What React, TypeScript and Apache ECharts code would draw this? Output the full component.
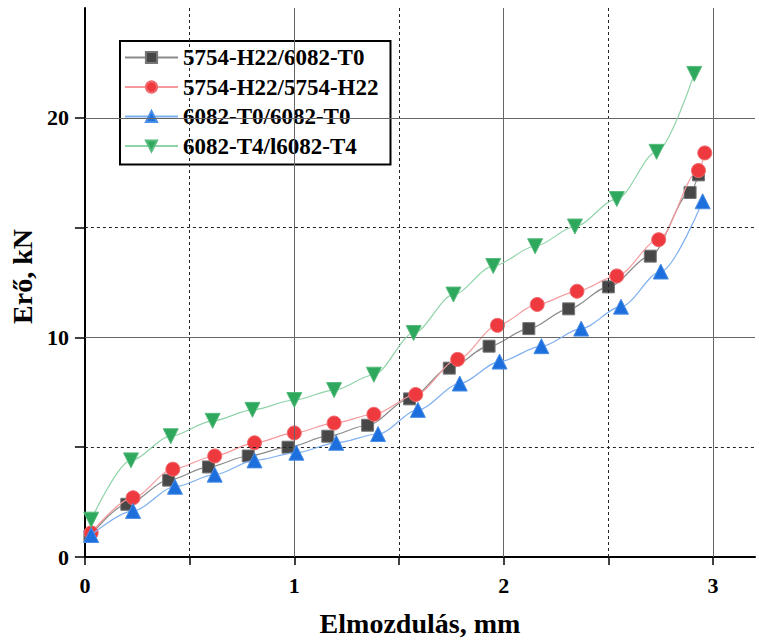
import React, { useEffect, useRef } from "react";
import * as echarts from "echarts";

const seriesNames = [
  "5754-H22/6082-T0",
  "5754-H22/5754-H22",
  "6082-T0/6082-T0",
  "6082-T4/l6082-T4",
];

const x1 = [0.024, 0.2, 0.4, 0.59, 0.78, 0.97, 1.16, 1.35, 1.55, 1.74, 1.93, 2.12, 2.31, 2.5, 2.7, 2.89, 2.93];
const y1 = [0.95, 2.4, 3.5, 4.1, 4.6, 5.0, 5.5, 6.0, 7.2, 8.6, 9.6, 10.4, 11.3, 12.3, 13.7, 16.6, 17.4];

const x2 = [0.03, 0.23, 0.42, 0.62, 0.81, 1.0, 1.19, 1.38, 1.58, 1.78, 1.97, 2.16, 2.35, 2.54, 2.74, 2.93, 2.96];
const y2 = [1.1, 2.7, 4.0, 4.6, 5.2, 5.65, 6.1, 6.5, 7.4, 9.0, 10.55, 11.5, 12.1, 12.8, 14.45, 17.6, 18.4];

const x3 = [0.03, 0.23, 0.43, 0.62, 0.81, 1.01, 1.2, 1.4, 1.59, 1.79, 1.98, 2.18, 2.37, 2.56, 2.75, 2.95];
const y3 = [1.0, 2.1, 3.2, 3.75, 4.4, 4.75, 5.2, 5.6, 6.7, 7.9, 8.9, 9.6, 10.4, 11.4, 13.0, 16.2];

const x4 = [0.03, 0.22, 0.41, 0.61, 0.8, 1.0, 1.19, 1.38, 1.57, 1.76, 1.95, 2.15, 2.34, 2.54, 2.73, 2.91];
const y4 = [1.7, 4.4, 5.5, 6.2, 6.7, 7.15, 7.6, 8.3, 10.2, 11.95, 13.25, 14.15, 15.05, 16.3, 18.45, 22.0];

const xMajorGrid = [1, 2, 3];
const xMinorGrid = [0.5, 1.5, 2.5];
const yMajorGrid = [10, 20];
const yMinorGrid = [5, 15];

const FONT = "Liberation Serif";

const pairs = (xs: number[], ys: number[]) => xs.map((x, i) => [x, ys[i]]);

export default function App() {
  const ref = useRef<HTMLDivElement>(null);
  useEffect(() => {
    if (!ref.current) return;
    const chart = echarts.init(ref.current, undefined, { renderer: "svg" });
    const markerStyles = [
      { symbol: "rect", size: 12, color: "#474747", border: "#777777", line: "#8a8a8a", rotate: 0 },
      { symbol: "circle", size: 14, color: "#ee3a3f", border: "#f06a6e", line: "#f59a9c", rotate: 0 },
      { symbol: "triangle", size: 15, color: "#1c6fdc", border: "#4b8ee6", line: "#7fb0f0", rotate: 0 },
      { symbol: "triangle", size: 15, color: "#2ea85c", border: "#58bb7d", line: "#8fd3a8", rotate: 180 },
    ];
    const datasets = [pairs(x1, y1), pairs(x2, y2), pairs(x3, y3), pairs(x4, y4)];
    const solid = { color: "#666666", width: 1, type: "solid" };
    const dashed = { color: "#222222", width: 1, type: [3, 3] };
    const gridSeries: any = {
      name: "grid",
      type: "line",
      data: [],
      z: 1,
      silent: true,
      markLine: {
        silent: true,
        symbol: "none",
        label: { show: false },
        animation: false,
        data: [
          ...xMajorGrid.map((v) => ({ xAxis: v, lineStyle: solid })),
          ...xMinorGrid.map((v) => ({ xAxis: v, lineStyle: dashed })),
          ...yMajorGrid.map((v) => ({ yAxis: v, lineStyle: solid })),
          ...yMinorGrid.map((v) => ({ yAxis: v, lineStyle: dashed })),
        ],
      },
    };
    const dataSeries = seriesNames.map((name, i) => ({
      name,
      type: "line",
      data: datasets[i],
      smooth: 0.3,
      smoothMonotone: "x",
      symbol: markerStyles[i].symbol,
      symbolSize: markerStyles[i].size,
      symbolRotate: markerStyles[i].rotate,
      z: 3 + i,
      lineStyle: { color: markerStyles[i].line, width: 1.2 },
      itemStyle: {
        color: markerStyles[i].color,
        borderColor: markerStyles[i].border,
        borderWidth: 1,
      },
    }));
    chart.setOption({
      animation: false,
      backgroundColor: "#ffffff",
      grid: { left: 83, top: 8, right: 4, bottom: 81, containLabel: false },
      legend: {
        data: seriesNames,
        orient: "vertical",
        left: 120,
        top: 41,
        backgroundColor: "#ffffff",
        borderColor: "#000000",
        borderWidth: 2,
        padding: [5, 12, 7, 4],
        itemGap: 6.5,
        itemWidth: 53,
        itemHeight: 14,
        textStyle: {
          fontFamily: FONT,
          fontWeight: "bold",
          fontSize: 23,
          color: "#000000",
          lineHeight: 23,
        },
      },
      xAxis: {
        type: "value",
        min: 0,
        max: 3.2,
        interval: 0.5,
        name: "Elmozdulás, mm",
        nameLocation: "middle",
        nameGap: 52,
        nameTextStyle: { fontFamily: FONT, fontWeight: "bold", fontSize: 28, color: "#000" },
        axisLine: { show: true, onZero: false, lineStyle: { color: "#000", width: 2 } },
        axisTick: { show: true, length: 8, lineStyle: { color: "#000", width: 1.5 } },
        axisLabel: {
          fontFamily: FONT,
          fontWeight: "bold",
          fontSize: 22,
          color: "#000",
          margin: 17,
          showMaxLabel: false,
          formatter: (v: number) => (Math.abs(v - Math.round(v)) < 1e-9 ? String(Math.round(v)) : ""),
        },
        splitLine: { show: false },
      },
      yAxis: {
        type: "value",
        min: 0,
        max: 25,
        interval: 5,
        name: "Erő, kN",
        nameLocation: "middle",
        nameGap: 47,
        nameTextStyle: { fontFamily: FONT, fontWeight: "bold", fontSize: 28, color: "#000", padding: [0, 0, 0, 12] },
        axisLine: { show: true, onZero: false, lineStyle: { color: "#000", width: 2 } },
        axisTick: { show: true, length: 10, lineStyle: { color: "#000", width: 1.5 } },
        axisLabel: {
          fontFamily: FONT,
          fontWeight: "bold",
          fontSize: 22,
          color: "#000",
          margin: 16,
          showMaxLabel: false,
          formatter: (v: number) => (v % 10 === 0 ? String(v) : ""),
        },
        splitLine: { show: false },
      },
      series: [gridSeries, ...dataSeries],
    });
    return () => chart.dispose();
  }, []);
  return <div ref={ref} style={{ width: 759, height: 642, position: "absolute", left: 0, top: 0 }} />;
}
